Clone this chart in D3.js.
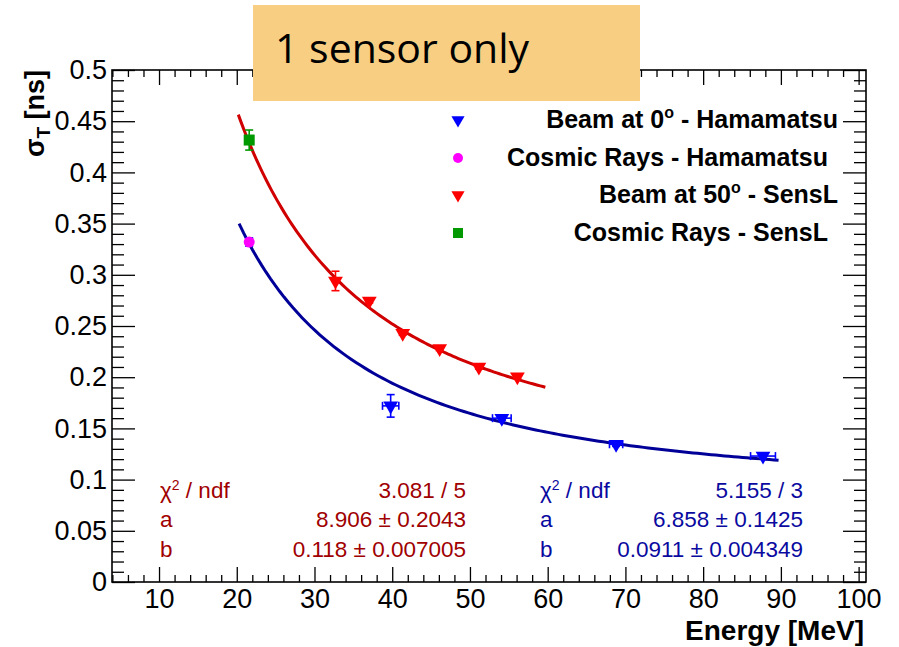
<!DOCTYPE html>
<html>
<head>
<meta charset="utf-8">
<script src="https://cdn.jsdelivr.net/npm/d3@7/dist/d3.min.js"></script>
<style>
  html, body { margin: 0; padding: 0; background: #fff; }
  svg { display: block; }
</style>
</head>
<body>
<svg id="chart" width="899" height="647"></svg>
<script>
// ---- data ----
// Beam at 0° - Hamamatsu
const beam0Energy   = [39.8, 54.1, 68.8, 87.7];
const beam0Sigma    = [0.172, 0.160, 0.1345, 0.123];
const beam0EnergyErr= [1.05, 1.2, 0.85, 1.6];
const beam0SigmaErr = [0.011, 0.002, 0.002, 0.002];
// Cosmic rays - Hamamatsu
const cosmicHamEnergy = [21.6];
const cosmicHamSigma  = [0.332];
const cosmicHamSigmaErr = [0.004];
// Beam at 50° - SensL
const beam50Energy   = [32.7, 37.05, 41.35, 46.1, 51.15, 56.1];
const beam50Sigma    = [0.294, 0.2745, 0.243, 0.228, 0.210, 0.2005];
const beam50SigmaErr = [0.0095, 0.002, 0.002, 0.002, 0.002, 0.002];
// Cosmic rays - SensL
const cosmicSensLEnergy = [21.6];
const cosmicSensLSigma  = [0.4316];
const cosmicSensLSigmaErr = [0.0098];

// fit sigma(E) = sqrt((a/E)^2 + b^2)
const fitSensLParams = {a: 8.906, b: 0.118};
const fitSensLRange  = [20.2, 59.7];
const fitHamParams   = {a: 6.858, b: 0.0911};
const fitHamRange    = [20.3, 89.7];

const statsSensL = [["χ2 / ndf", "3.081 / 5"], ["a", "8.906 ± 0.2043"], ["b", "0.118 ± 0.007005"]];
const statsHam   = [["χ2 / ndf", "5.155 / 3"], ["a", "6.858 ± 0.1425"], ["b", "0.0911 ± 0.004349"]];

const legendLabels = [
  ["Beam at 0", "o", " - Hamamatsu"],
  ["Cosmic Rays - Hamamatsu"],
  ["Beam at 50", "o", " - SensL"],
  ["Cosmic Rays - SensL"]
];

const xMajorTicks = [10, 20, 30, 40, 50, 60, 70, 80, 90, 100];
const xTickLabels = ["10", "20", "30", "40", "50", "60", "70", "80", "90", "100"];
const yMajorTicks = [0, 0.05, 0.1, 0.15, 0.2, 0.25, 0.3, 0.35, 0.4, 0.45, 0.5];
const yTickLabels = ["0", "0.05", "0.1", "0.15", "0.2", "0.25", "0.3", "0.35", "0.4", "0.45", "0.5"];
const xDomain = [3.95, 100.95];
const yDomain = [0, 0.5];

// ---- layout ----
const svg = d3.select("#chart");
const L = 112, R = 866, T = 70, B = 582;
const x = d3.scaleLinear().domain(xDomain).range([L, R]);
const y = d3.scaleLinear().domain(yDomain).range([B, T]);

svg.append("rect").attr("width", 899).attr("height", 647).attr("fill", "#fff");

const axisFont = "Liberation Sans, Arial, Helvetica, sans-serif";
const xMinor = d3.range(4, 101, 2).filter(v => v % 10 !== 0);
const yMinor = d3.range(0, 0.5001, 0.01).filter((v, i) => i % 5 !== 0);

function styleAxis(g) {
  g.select(".domain").remove();
  g.selectAll("line").attr("stroke", "#000").attr("stroke-width", 1.3);
}

// bottom axis
svg.append("g").attr("transform", `translate(0,${B})`)
  .call(d3.axisBottom(x).tickValues(xMinor).tickSize(-7).tickFormat(""))
  .call(styleAxis);
svg.append("g").attr("transform", `translate(0,${B})`)
  .call(d3.axisBottom(x).tickValues(xMajorTicks).tickSize(-15).tickPadding(7)
        .tickFormat((d, i) => xTickLabels[i]))
  .call(styleAxis)
  .call(g => g.selectAll("text").attr("font-family", axisFont).attr("font-size", 27).attr("fill", "#000"));
// top axis
svg.append("g").attr("transform", `translate(0,${T})`)
  .call(d3.axisTop(x).tickValues(xMinor).tickSize(-7).tickFormat(""))
  .call(styleAxis);
svg.append("g").attr("transform", `translate(0,${T})`)
  .call(d3.axisTop(x).tickValues(xMajorTicks).tickSize(-15).tickFormat(""))
  .call(styleAxis);
// left axis
svg.append("g").attr("transform", `translate(${L},0)`)
  .call(d3.axisLeft(y).tickValues(yMinor).tickSize(-12).tickFormat(""))
  .call(styleAxis);
svg.append("g").attr("transform", `translate(${L},0)`)
  .call(d3.axisLeft(y).tickValues(yMajorTicks).tickSize(-23).tickPadding(5)
        .tickFormat((d, i) => yTickLabels[i]))
  .call(styleAxis)
  .call(g => g.selectAll("text").attr("font-family", axisFont).attr("font-size", 27).attr("fill", "#000"));
// right axis
svg.append("g").attr("transform", `translate(${R},0)`)
  .call(d3.axisRight(y).tickValues(yMinor).tickSize(-12).tickFormat(""))
  .call(styleAxis);
svg.append("g").attr("transform", `translate(${R},0)`)
  .call(d3.axisRight(y).tickValues(yMajorTicks).tickSize(-23).tickFormat(""))
  .call(styleAxis);

// frame
svg.append("rect").attr("x", L).attr("y", T).attr("width", R - L).attr("height", B - T)
  .attr("fill", "none").attr("stroke", "#000").attr("stroke-width", 1.6);

// axis titles
svg.append("text").attr("x", 864).attr("y", 640).attr("text-anchor", "end")
  .attr("font-family", axisFont).attr("font-weight", "bold").attr("font-size", 28)
  .text("Energy [MeV]");
const yt = svg.append("text").attr("transform", "translate(44,70) rotate(-90)")
  .attr("text-anchor", "end").attr("font-family", axisFont)
  .attr("font-weight", "bold").attr("font-size", 27);
yt.append("tspan").text("σ");
yt.append("tspan").attr("font-size", 19).attr("dy", 6).text("T");
yt.append("tspan").attr("dy", -6).text(" [ns]");

// ---- fit curves ----
function fitPoints(p, range) {
  const n = 120;
  return d3.range(n + 1).map(i => {
    const e = range[0] + (range[1] - range[0]) * i / n;
    return [e, Math.sqrt((p.a / e) ** 2 + p.b ** 2)];
  });
}
const line = d3.line().x(d => x(d[0])).y(d => y(d[1]));
svg.append("path").attr("d", line(fitPoints(fitSensLParams, fitSensLRange)))
  .attr("fill", "none").attr("stroke", "#d00000").attr("stroke-width", 3);
svg.append("path").attr("d", line(fitPoints(fitHamParams, fitHamRange)))
  .attr("fill", "none").attr("stroke", "#000099").attr("stroke-width", 3);

// ---- error bars and markers ----
function errorBars(xs, ys, yerr, xerr, color) {
  const g = svg.append("g").attr("stroke", color).attr("stroke-width", 1.6);
  xs.forEach((e, i) => {
    const cx = x(e), cy = y(ys[i]);
    if (yerr && yerr[i]) {
      const y0 = y(ys[i] - yerr[i]), y1 = y(ys[i] + yerr[i]);
      g.append("line").attr("x1", cx).attr("x2", cx).attr("y1", y0).attr("y2", y1);
      g.append("line").attr("x1", cx - 4).attr("x2", cx + 4).attr("y1", y0).attr("y2", y0);
      g.append("line").attr("x1", cx - 4).attr("x2", cx + 4).attr("y1", y1).attr("y2", y1);
    }
    if (xerr && xerr[i]) {
      const x0 = x(e - xerr[i]), x1 = x(e + xerr[i]);
      g.append("line").attr("x1", x0).attr("x2", x1).attr("y1", cy).attr("y2", cy);
      g.append("line").attr("x1", x0).attr("x2", x0).attr("y1", cy - 4).attr("y2", cy + 4);
      g.append("line").attr("x1", x1).attr("x2", x1).attr("y1", cy - 4).attr("y2", cy + 4);
    }
  });
}
const triDown = d3.symbol().type(d3.symbolTriangle).size(95);
const triDownSmall = d3.symbol().type(d3.symbolTriangle).size(75);
function triangles(xs, ys, color) {
  svg.append("g").selectAll("path").data(xs).join("path")
    .attr("d", triDown())
    .attr("transform", (d, i) => `translate(${x(d)},${y(ys[i])}) rotate(180)`)
    .attr("fill", color);
}

errorBars(beam0Energy, beam0Sigma, beam0SigmaErr, beam0EnergyErr, "#0000ff");
triangles(beam0Energy, beam0Sigma, "#0000ff");

errorBars(beam50Energy, beam50Sigma, beam50SigmaErr, null, "#ff0000");
triangles(beam50Energy, beam50Sigma, "#ff0000");

errorBars(cosmicHamEnergy, cosmicHamSigma, cosmicHamSigmaErr, null, "#0000ff");
svg.append("g").selectAll("circle").data(cosmicHamEnergy).join("circle")
  .attr("cx", d => x(d)).attr("cy", (d, i) => y(cosmicHamSigma[i])).attr("r", 5.5)
  .attr("fill", "#ff00ff");

errorBars(cosmicSensLEnergy, cosmicSensLSigma, cosmicSensLSigmaErr, null, "#009900");
svg.append("g").selectAll("rect").data(cosmicSensLEnergy).join("rect")
  .attr("x", d => x(d) - 5.5).attr("y", (d, i) => y(cosmicSensLSigma[i]) - 5.5)
  .attr("width", 11).attr("height", 11).attr("fill", "#009900");

// ---- legend ----
const legendRowY = [120, 158, 195, 233];
const legendTextX = [838, 828, 838, 828];
const legendMarkerX = 458;
const lg = svg.append("g");
// markers
lg.append("path").attr("d", triDownSmall()).attr("fill", "#0000ff")
  .attr("transform", `translate(${legendMarkerX},${legendRowY[0]}) rotate(180)`);
lg.append("circle").attr("cx", legendMarkerX).attr("cy", legendRowY[1]).attr("r", 5).attr("fill", "#ff00ff");
lg.append("path").attr("d", triDownSmall()).attr("fill", "#ff0000")
  .attr("transform", `translate(${legendMarkerX},${legendRowY[2]}) rotate(180)`);
lg.append("rect").attr("x", legendMarkerX - 5).attr("y", legendRowY[3] - 5)
  .attr("width", 10).attr("height", 10).attr("fill", "#009900");
legendLabels.forEach((parts, i) => {
  const t = lg.append("text").attr("x", legendTextX[i]).attr("y", legendRowY[i] + 8)
    .attr("text-anchor", "end").attr("font-family", axisFont)
    .attr("font-weight", "bold").attr("font-size", 25);
  if (parts.length === 1) {
    t.text(parts[0]);
  } else {
    t.append("tspan").text(parts[0]);
    t.append("tspan").attr("dy", -10).attr("font-size", 16).text(parts[1]);
    t.append("tspan").attr("dy", 10).text(parts[2]);
  }
});

// ---- fit statistics ----
function stats(rows, xLeft, xRight, color) {
  const base = [498, 527, 557];
  rows.forEach((r, i) => {
    const tl = svg.append("text").attr("x", xLeft).attr("y", base[i])
      .attr("font-family", axisFont).attr("font-size", 22.5).attr("fill", color);
    if (r[0].startsWith("χ2")) {
      tl.append("tspan").text("χ");
      tl.append("tspan").attr("dy", -8).attr("font-size", 14).text("2");
      tl.append("tspan").attr("dy", 8).text(" / ndf");
    } else {
      tl.text(r[0]);
    }
    svg.append("text").attr("x", xRight).attr("y", base[i]).attr("text-anchor", "end")
      .attr("font-family", axisFont).attr("font-size", 22.5).attr("fill", color).text(r[1]);
  });
}
stats(statsSensL, 160, 466, "#a00000");
stats(statsHam, 540, 803, "#0a0aa0");

// ---- title box ----
svg.append("rect").attr("x", 253).attr("y", 5).attr("width", 387).attr("height", 96)
  .attr("fill", "#f8cf82");
svg.append("text").attr("x", 275).attr("y", 63)
  .attr("font-family", "Open Sans, Noto Sans, sans-serif").attr("font-size", 41).attr("fill", "#000")
  .text("1 sensor only");
</script>
</body>
</html>
